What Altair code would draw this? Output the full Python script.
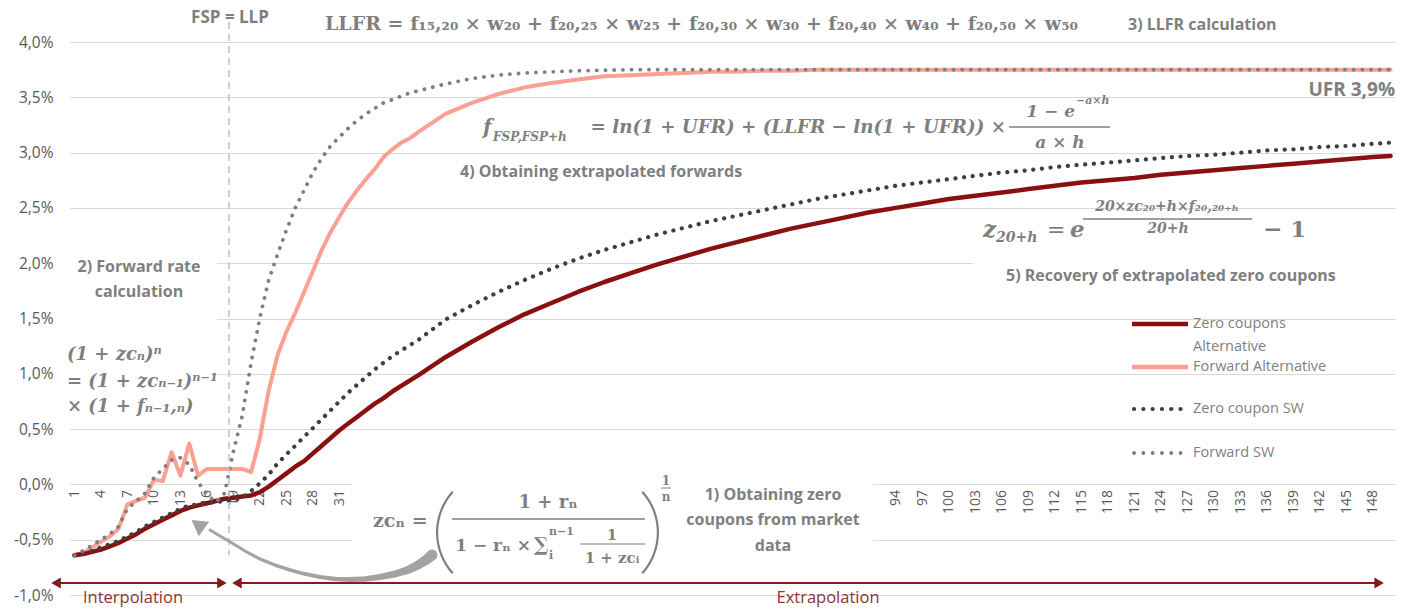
import altair as alt
import pandas as pd

# Maturities (years) at which every curve is sampled
maturity = list(range(1, 41)) + list(range(43, 149, 3)) + [150]

# Curves, in percent
zero_alt = [-0.64, -0.63, -0.61, -0.59, -0.56, -0.53, -0.49, -0.45, -0.40, -0.36,
            -0.32, -0.28, -0.24, -0.21, -0.19, -0.17, -0.15, -0.13, -0.12, -0.11,
            -0.10, -0.07, -0.02, 0.04, 0.10, 0.16, 0.21, 0.28, 0.35, 0.42,
            0.49, 0.55, 0.61, 0.67, 0.73, 0.78, 0.84, 0.89, 0.94, 0.99,
            1.15, 1.29, 1.42, 1.54, 1.64, 1.74, 1.83, 1.91, 1.99, 2.06,
            2.13, 2.19, 2.25, 2.31, 2.36, 2.41, 2.46, 2.50, 2.54, 2.58,
            2.61, 2.64, 2.67, 2.70, 2.73, 2.75, 2.77, 2.80, 2.82, 2.84,
            2.86, 2.88, 2.90, 2.92, 2.94, 2.96, 2.97]

fwd_alt = [-0.64, -0.62, -0.57, -0.52, -0.47, -0.40, -0.18, -0.15, -0.12, 0.04,
           0.03, 0.29, 0.08, 0.37, 0.08, 0.14, 0.14, 0.14, 0.14, 0.14,
           0.11, 0.42, 0.85, 1.17, 1.38, 1.55, 1.74, 1.93, 2.12, 2.28,
           2.42, 2.55, 2.66, 2.76, 2.85, 2.96, 3.03, 3.09, 3.13, 3.19,
           3.35, 3.45, 3.53, 3.59, 3.63, 3.66, 3.69, 3.70, 3.71, 3.72,
           3.73, 3.73, 3.74, 3.74, 3.75, 3.75, 3.75, 3.75, 3.75, 3.75,
           3.75, 3.75, 3.75, 3.75, 3.75, 3.75, 3.75, 3.75, 3.75, 3.75,
           3.75, 3.75, 3.75, 3.75, 3.75, 3.75, 3.75]

zero_sw = [-0.64, -0.62, -0.60, -0.57, -0.54, -0.51, -0.47, -0.43, -0.38, -0.34,
           -0.30, -0.26, -0.22, -0.19, -0.18, -0.17, -0.16, -0.15, -0.14, -0.12,
           -0.06, 0.01, 0.09, 0.19, 0.27, 0.35, 0.43, 0.51, 0.59, 0.67,
           0.75, 0.83, 0.90, 0.97, 1.04, 1.10, 1.16, 1.21, 1.26, 1.31,
           1.49, 1.62, 1.74, 1.85, 1.95, 2.04, 2.12, 2.19, 2.26, 2.32,
           2.38, 2.43, 2.48, 2.53, 2.58, 2.62, 2.66, 2.70, 2.73, 2.76,
           2.79, 2.82, 2.84, 2.87, 2.89, 2.91, 2.93, 2.95, 2.97, 2.98,
           3.00, 3.02, 3.03, 3.05, 3.06, 3.08, 3.09]

fwd_sw = [-0.64, -0.60, -0.55, -0.50, -0.45, -0.38, -0.22, -0.15, -0.08, 0.06,
          0.14, 0.22, 0.24, 0.18, 0.02, -0.09, -0.16, -0.08, 0.30, 0.62,
          1.10, 1.51, 1.85, 2.08, 2.30, 2.50, 2.66, 2.82, 2.95, 3.06,
          3.14, 3.22, 3.29, 3.35, 3.40, 3.45, 3.48, 3.51, 3.54, 3.56,
          3.62, 3.67, 3.70, 3.72, 3.73, 3.74, 3.745, 3.75, 3.75, 3.75,
          3.75, 3.75, 3.75, 3.75, 3.75, 3.75, 3.75, 3.75, 3.75, 3.75,
          3.75, 3.75, 3.75, 3.75, 3.75, 3.75, 3.75, 3.75, 3.75, 3.75,
          3.75, 3.75, 3.75, 3.75, 3.75, 3.75, 3.75]

legend_labels = ["Zero coupons", "Alternative", "Forward Alternative",
                 "Zero coupon SW", "Forward SW"]

x_ticks = list(range(1, 32, 3)) + list(range(94, 149, 3))
y_ticks = [-0.010, -0.005, 0.0, 0.005, 0.010, 0.015, 0.020, 0.025, 0.030, 0.035, 0.040]

# First smoothing point (FSP) = last liquid point (LLP)
fsp = 18.5

# ---- styling ---------------------------------------------------------------
W, H = 1325, 553
Y_MIN, Y_MAX = -0.01, 0.04
SANS = "Open Sans"
SERIF = "DejaVu Serif"
NOTE = "#7f7f7f"
AXIS_GREY = "#595959"
MAROON = "#8a0f0f"
SALMON = "#fba093"
DOT_DARK = "#3f3f3f"
DOT_GREY = "#7f7f7f"
ARROW_RED = "#7f1d1d"
TEXT_RED = "#8e3434"
ARROW_GREY = "#a3a3a3"

x_scale = alt.Scale(domain=[0.5, 150.5], nice=False, zero=False)
y_scale = alt.Scale(domain=[Y_MIN, Y_MAX], nice=False, zero=False)
zero_offset = -H * (0 - Y_MIN) / (Y_MAX - Y_MIN)   # category axis crosses at 0 %

x_axis = alt.Axis(values=x_ticks, title=None, labelAngle=270, labelFont=SANS,
                  labelFontSize=14, labelColor=AXIS_GREY, labelPadding=5,
                  domain=False, ticks=False, grid=False, offset=zero_offset,
                  labelOverlap=False, labelFlush=False)
y_axis = alt.Axis(values=y_ticks, title=None,
                  labelExpr="replace(replace(format(datum.value, '.1%'), '.', ','), '\u2212', '-')",
                  labelFont=SANS, labelFontSize=15.5, labelColor=AXIS_GREY,
                  labelPadding=17, domain=False, ticks=False, grid=True,
                  gridColor="#d9d9d9", gridWidth=1)


def X(field="maturity"):
    return alt.X(f"{field}:Q", scale=x_scale, axis=x_axis)


def Y(field="rate"):
    return alt.Y(f"{field}:Q", scale=y_scale, axis=y_axis)


ONE = alt.Data(values=[{"k": 0}])


def curve(values, color, width, dash=None):
    df = pd.DataFrame({"maturity": maturity, "rate": [v / 100 for v in values]})
    kw = dict(color=color, strokeWidth=width, strokeCap="round", strokeJoin="round")
    if dash:
        kw["strokeDash"] = dash
    return alt.Chart(df).mark_line(**kw).encode(x=X(), y=Y())


def note(text, x, y, size=16, weight="bold", style="normal", font=SANS,
         align="left", color=NOTE):
    return alt.Chart(ONE).mark_text(
        text=text, fontSize=size, fontWeight=weight, fontStyle=style, font=font,
        align=align, baseline="middle", color=color
    ).encode(x=alt.value(x), y=alt.value(y))


def bar(x1, x2, y, color=NOTE, width=1.5, dash=None):
    kw = dict(color=color, strokeWidth=width)
    if dash:
        kw["strokeDash"] = dash
        kw["strokeCap"] = "round"
    return alt.Chart(ONE).mark_rule(**kw).encode(
        x=alt.value(x1), x2=alt.value(x2), y=alt.value(y))


def box(x1, x2, y1, y2):
    return alt.Chart(ONE).mark_rect(color="white").encode(
        x=alt.value(x1), x2=alt.value(x2), y=alt.value(y1), y2=alt.value(y2))


def paren(cx, cy, start_deg, end_deg):
    rad = 3.141592653589793 / 180
    return alt.Chart(ONE).mark_arc(
        radius=62, radius2=59.8, theta=start_deg * rad, theta2=end_deg * rad,
        color=NOTE
    ).encode(x=alt.value(cx), y=alt.value(cy))


# ---- white backgrounds of the text boxes -----------------------------------
boxes = [box(282, 803, 426, 526), box(-4, 147, 198, 373), box(903, 1330, 198, 256)]

# ---- curves ----------------------------------------------------------------
curves = [
    curve(fwd_alt, SALMON, 4),
    curve(zero_alt, MAROON, 4.5),
    curve(zero_sw, DOT_DARK, 4.2, [0.1, 8.6]),
    curve(fwd_sw, DOT_GREY, 3.8, [0.1, 8.6]),
]

# FSP = LLP marker
fsp_line = alt.Chart(alt.Data(values=[{"maturity": fsp, "rate": 0.0418, "rate_end": -0.0064}])).mark_rule(
    color="#b9c7d8", strokeWidth=1.6, strokeDash=[7, 5]
).encode(x=X(), y=Y(), y2=alt.Y2("rate_end:Q"))

# Interpolation / extrapolation ranges
span_rows = [{"maturity": -1.2, "maturity_end": 17.9, "rate": -0.00892},
             {"maturity": 19.3, "maturity_end": 148.6, "rate": -0.00892}]
spans = alt.Chart(alt.Data(values=span_rows)).mark_rule(color=ARROW_RED, strokeWidth=2).encode(
    x=X(), x2=alt.X2("maturity_end:Q"), y=Y())
heads_left = alt.Chart(alt.Data(values=[{"maturity": -1.08, "rate": -0.00892},
                                        {"maturity": 19.4, "rate": -0.00892}])).mark_point(
    shape="triangle-left", filled=True, size=120, color=ARROW_RED, opacity=1).encode(x=X(), y=Y())
heads_right = alt.Chart(alt.Data(values=[{"maturity": 17.7, "rate": -0.00892},
                                         {"maturity": 148.7, "rate": -0.00892}])).mark_point(
    shape="triangle-right", filled=True, size=120, color=ARROW_RED, opacity=1).encode(x=X(), y=Y())

# Curved arrow from the bootstrapping formula back to the market-data segment
arrow_maturity = [41.48, 40.80, 39.90, 38.77, 37.29, 35.59, 33.90, 32.20, 30.50,
                  28.80, 27.10, 25.41, 23.71, 22.01, 20.31, 18.84, 17.48, 16.35]
arrow_rate = [-0.638, -0.684, -0.729, -0.774, -0.810, -0.837, -0.855, -0.860, -0.855,
              -0.837, -0.810, -0.774, -0.729, -0.675, -0.602, -0.530, -0.467, -0.412]
arrow_width = [11, 10, 9, 8, 7, 6, 5.5, 5, 4.5, 4, 3.8, 3.6, 3.4, 3.2, 3, 3, 3, 3]
arrow_df = pd.DataFrame({"i": list(range(len(arrow_maturity))), "maturity": arrow_maturity,
                         "rate": [v / 100 for v in arrow_rate], "w": arrow_width})
curved = alt.Chart(arrow_df).mark_trail(color=ARROW_GREY).encode(
    x=X(), y=Y(), size=alt.Size("w:Q", scale=None, legend=None), order=alt.Order("i:Q"))
curved_head = alt.Chart(alt.Data(values=[{"maturity": 15.2, "rate": -0.00376}])).mark_point(
    shape="triangle", angle=306, filled=True, size=320, color=ARROW_GREY, opacity=1
).encode(x=X(), y=Y())

# ---- annotations -----------------------------------------------------------
LLFR_TEXT = "LLFR = f\u2081\u2085,\u2082\u2080 \u00d7 w\u2082\u2080 + f\u2082\u2080,\u2082\u2085 \u00d7 w\u2082\u2085 + " \
            "f\u2082\u2080,\u2083\u2080 \u00d7 w\u2083\u2080 + f\u2082\u2080,\u2084\u2080 \u00d7 w\u2084\u2080 + " \
            "f\u2082\u2080,\u2085\u2080 \u00d7 w\u2085\u2080"

notes = [
    note("FSP = LLP", 160, -24, 17, align="center"),
    note(LLFR_TEXT, 255, -18, 19, font=SERIF),
    note("3) LLFR calculation", 1058, -17, 16),
    note("UFR 3,9%", 1325, 48, 19, align="right"),

    # extrapolated forwards
    note("f", 413, 86, 20, font=SERIF, style="italic"),
    note("FSP,FSP+h", 423, 95, 12, font=SERIF, style="italic"),
    note("= ln(1 + UFR) + (LLFR \u2212 ln(1 + UFR)) \u00d7", 936, 86, 18.3, font=SERIF,
         style="italic", align="right"),
    note("1 \u2212 e", 1005, 70, 17, font=SERIF, style="italic", align="right"),
    note("\u2212a\u00d7h", 1006, 59, 11, font=SERIF, style="italic"),
    bar(939, 1040, 85),
    note("a \u00d7 h", 990, 101, 17, font=SERIF, style="italic", align="center"),
    note("4) Obtaining extrapolated forwards", 390, 130, 16),

    # recovered zero coupons
    note("z", 913, 188, 23, font=SERIF, style="italic"),
    note("20+h", 926, 196, 14, font=SERIF, style="italic"),
    note("=", 977, 188, 22, weight="normal", font=SERIF),
    note("e", 1000, 188, 23, font=SERIF, style="italic"),
    note("20\u00d7zc\u2082\u2080+h\u00d7f\u2082\u2080,\u2082\u2080\u208a\u2095", 1097, 165, 14,
         font=SERIF, style="italic", align="center"),
    bar(1013, 1182, 177),
    note("20+h", 1098, 187, 14, font=SERIF, style="italic", align="center"),
    note("\u2212 1", 1193, 188, 23, font=SERIF),
    note("5) Recovery of extrapolated zero coupons", 936, 234, 16),

    # forward rate from consecutive zero coupons
    note("2) Forward rate", 69, 225, 16, align="center"),
    note("calculation", 69, 250, 16, align="center"),
    note("(1 + zc\u2099)\u207f", -3, 313, 18, font=SERIF, style="italic"),
    note("= (1 + zc\u2099\u208b\u2081)\u207f\u207b\u00b9", -3, 340, 18, font=SERIF, style="italic"),
    note("\u00d7 (1 + f\u2099\u208b\u2081,\u2099)", -3, 365, 18, font=SERIF, style="italic"),

    # bootstrapped zero coupons
    note("zc\u2099 =", 303, 479, 19, font=SERIF),
    paren(428, 490.5, 228, 312),
    paren(527, 490.5, 48, 132),
    note("1 + r\u2099", 478, 461, 18, font=SERIF, align="center"),
    bar(382, 575, 477),
    note("1 \u2212 r\u2099 \u00d7", 461, 504, 17, font=SERIF, align="right"),
    note("\u2211", 464, 503, 19, font=SERIF),
    note("n\u22121", 479, 490, 11, font=SERIF),
    note("i", 479, 514, 11, font=SERIF),
    note("1", 542, 493, 15, font=SERIF, align="center"),
    bar(510, 575, 502, width=1.2),
    note("1 + zc\u1d62", 542, 516, 15, font=SERIF, align="center"),
    note("1", 596, 439, 12, font=SERIF, align="center"),
    bar(591, 601, 446, width=1),
    note("n", 596, 455, 12, font=SERIF, align="center"),
    note("1) Obtaining zero", 703, 453, 16, align="center"),
    note("coupons from market", 703, 478, 16, align="center"),
    note("data", 703, 504, 16, align="center"),

    note("Interpolation", 63, 556, 16.5, weight="normal", align="center", color=TEXT_RED),
    note("Extrapolation", 758, 556, 16.5, weight="normal", align="center", color=TEXT_RED),
]

# ---- legend ----------------------------------------------------------------
legend = [
    bar(1062, 1118, 282, MAROON, 4.5),
    bar(1062, 1118, 325, SALMON, 4.5),
    bar(1064, 1114, 367, DOT_DARK, 4.2, [0.1, 9.2]),
    bar(1064, 1114, 411, DOT_GREY, 3.8, [0.1, 9.2]),
]
for label, ly in zip(legend_labels, [282, 305, 325, 367, 411]):
    legend.append(note(label, 1123, ly, 14.5, weight="normal", color="#7f7f7f"))

chart = alt.layer(
    *boxes, *curves, fsp_line, spans, heads_left, heads_right, curved, curved_head,
    *notes, *legend
).properties(
    width=W, height=H,
    padding={"left": 70, "top": 42, "right": 15, "bottom": 14},
    autosize=alt.AutoSizeParams(type="none"),
    background="white",
).configure_view(stroke=None)

chart.save("out.html", embed_options={"renderer": "svg", "actions": False})
